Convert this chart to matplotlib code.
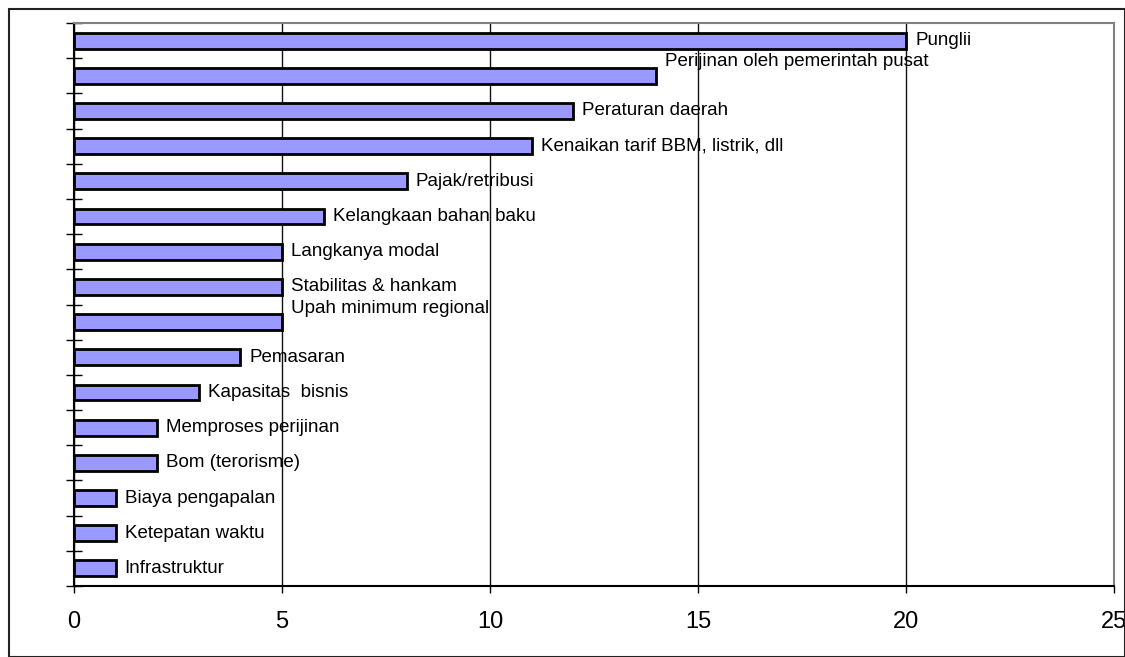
import matplotlib
matplotlib.use("Agg")
import matplotlib.pyplot as plt
from matplotlib.patches import Rectangle
from matplotlib.ticker import FixedLocator, NullFormatter

categories = [
    "Punglii",
    "Perijinan oleh pemerintah pusat",
    "Peraturan daerah",
    "Kenaikan tarif BBM, listrik, dll",
    "Pajak/retribusi",
    "Kelangkaan bahan baku",
    "Langkanya modal",
    "Stabilitas & hankam",
    "Upah minimum regional",
    "Pemasaran",
    "Kapasitas  bisnis",
    "Memproses perijinan",
    "Bom (terorisme)",
    "Biaya pengapalan",
    "Ketepatan waktu",
    "Infrastruktur",
]
values = [20, 14, 12, 11, 8, 6, 5, 5, 5, 4, 3, 2, 2, 1, 1, 1]
x_ticks = [0, 5, 10, 15, 20, 25]

# label vertical offsets in points (style only)
label_dy = {1: 10, 8: 10}

plt.rcParams['font.family'] = ['Liberation Sans', 'DejaVu Sans']

fig = plt.figure(figsize=(11.25, 6.57), dpi=100)
ax = fig.add_axes([74/1125, 71/657, 1040/1125, 563/657])

pos = list(range(len(categories)))
ax.barh(pos, values, height=0.45, color="#9999FF", edgecolor="black", linewidth=2, zorder=3)

for i, (v, lab) in enumerate(zip(values, categories)):
    ax.annotate(lab, xy=(v, i), xytext=(6.5, label_dy.get(i, 0)), textcoords="offset points",
                ha="left", va="center", fontsize=13.5, color="black", zorder=4)

ax.set_xlim(0, 25)
ax.set_ylim(len(categories) - 0.5, -0.5)
ax.set_xticks(x_ticks)
ax.set_xticklabels([str(t) for t in x_ticks], fontsize=17)
ax.tick_params(axis="x", direction="out", length=5, width=1, pad=13, color="black")

ax.yaxis.set_major_locator(FixedLocator([p - 0.5 for p in pos] + [len(pos) - 0.5]))
ax.yaxis.set_major_formatter(NullFormatter())
ax.tick_params(axis="y", direction="inout", length=12, width=1, color="black")

ax.grid(axis="x", color="#111111", linewidth=1, zorder=1)
ax.set_axisbelow(True)

for s in ["top", "right"]:
    ax.spines[s].set_color("#808080")
    ax.spines[s].set_linewidth(1.5)
for s in ["left", "bottom"]:
    ax.spines[s].set_color("black")
    ax.spines[s].set_linewidth(1.5)

fig.patches.append(Rectangle((9/1125, 0.0), 1 - 9/1125 - 0.5/1125, 1 - 9/657, transform=fig.transFigure,
                             fill=False, edgecolor="#222222", linewidth=1.5))

fig.savefig("out.png", dpi=100)
